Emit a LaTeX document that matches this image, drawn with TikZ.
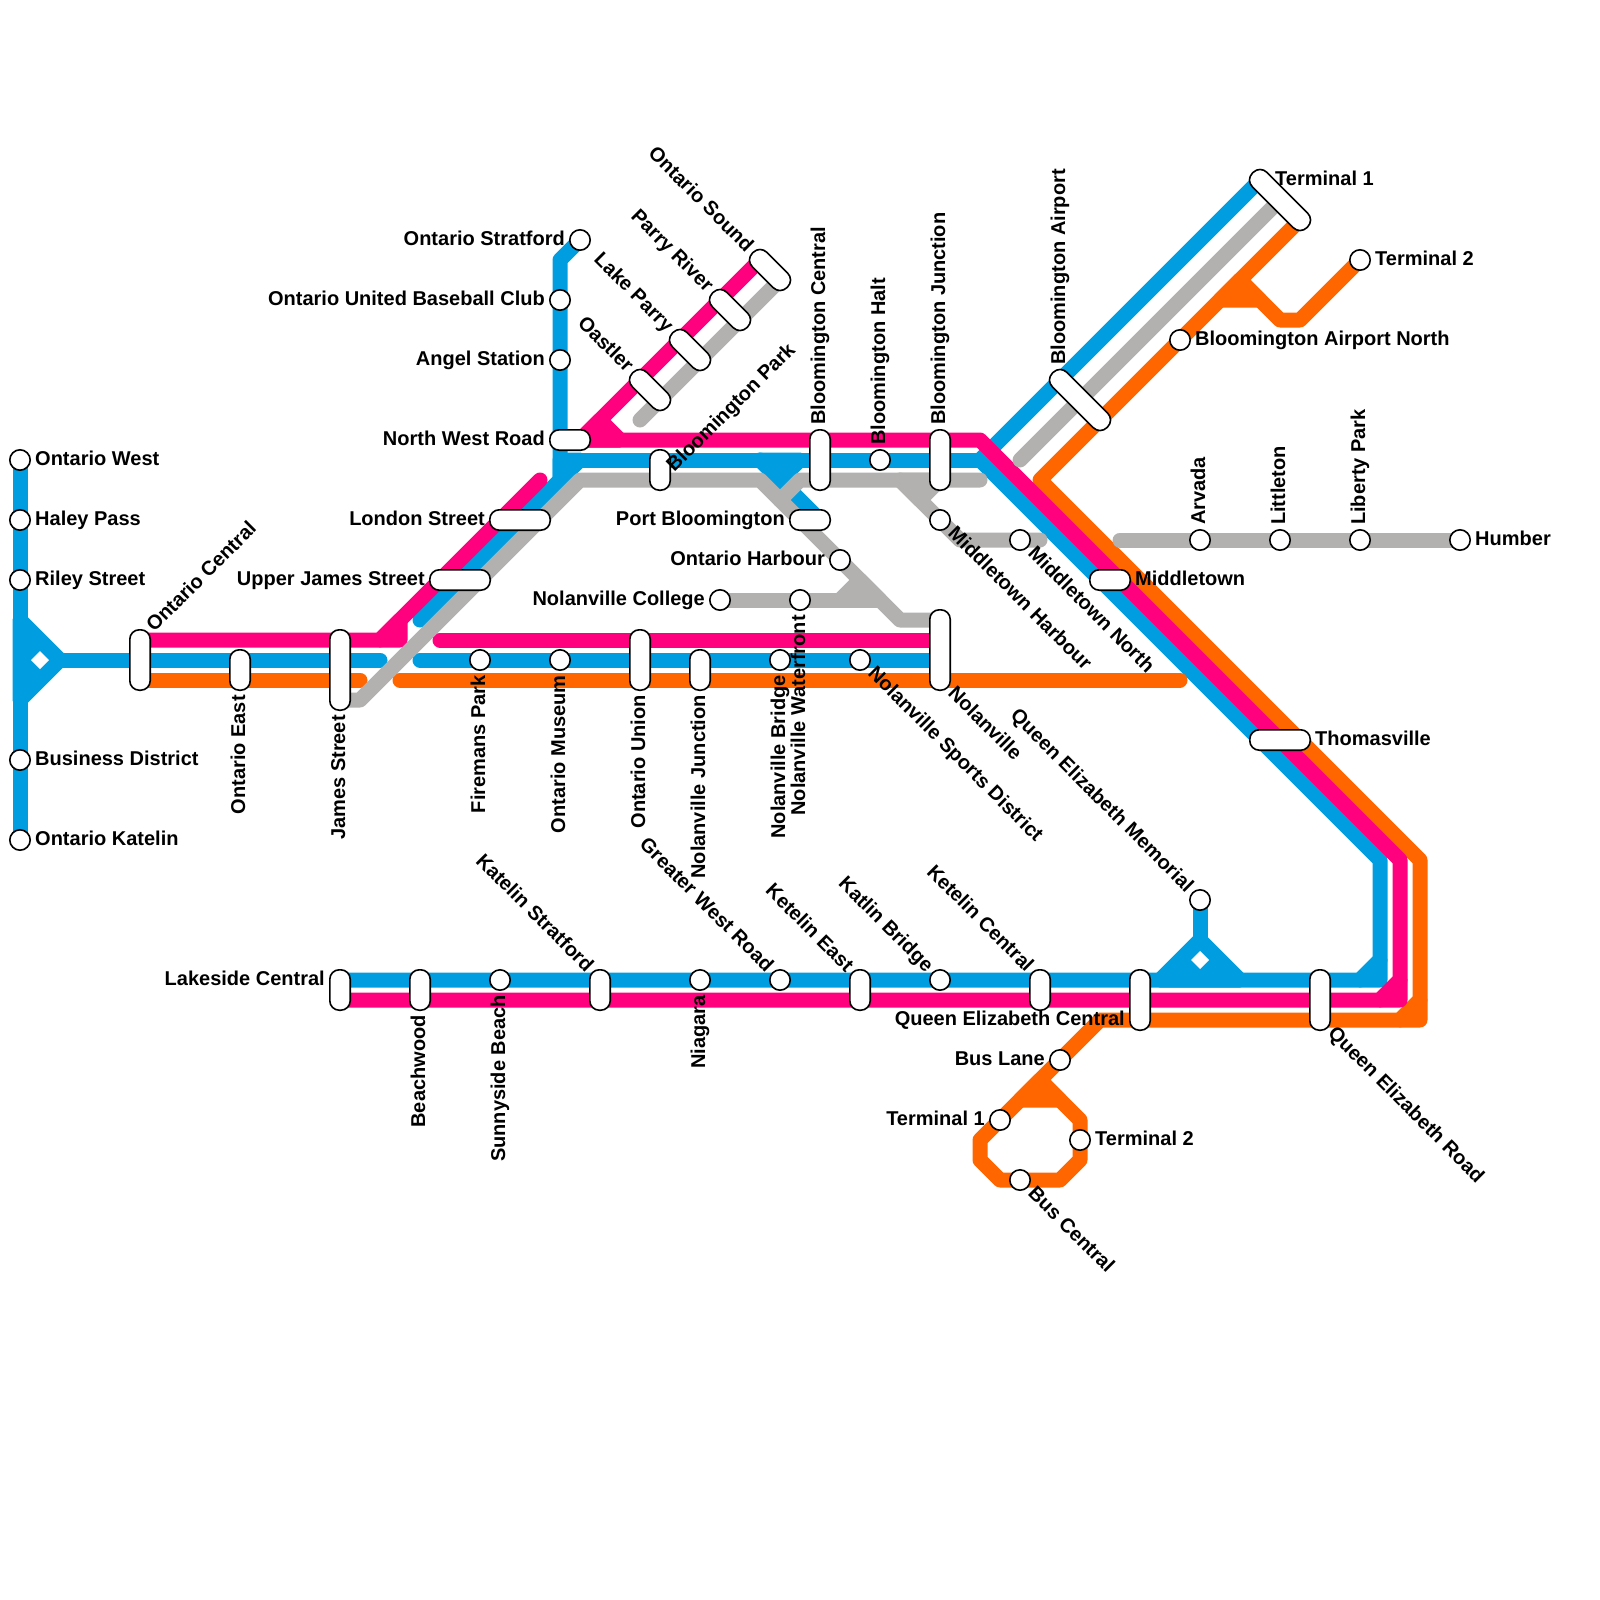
\documentclass[tikz,border=0pt]{standalone}
\usepackage{fontspec}
\setmainfont{Liberation Sans}
\usetikzlibrary{shapes.geometric, backgrounds}
\pgfdeclarelayer{labels}
\pgfsetlayers{background,main,labels}
\definecolor{metroBlue}{HTML}{009EE0}
\definecolor{metroPink}{HTML}{FF007F}
\definecolor{metroOrange}{HTML}{FF6600}
\definecolor{metroGrey}{HTML}{B2B1B0}
\tikzset{
  stopdot/.style={
    draw, circle, fill=white, line width=0.8pt,
    inner sep=0pt, minimum size=10.2pt
  },
  pillbox/.style={
    draw, rectangle, fill=white, line width=0.8pt,
    rounded corners=4.7pt, inner sep=0pt, minimum height=10.2pt
  },
  hubhole/.style={
    diamond, fill=white, inner sep=0pt, outer sep=0pt, minimum size=9pt
  },
  % Station names
  stoplabel/.style={
    font=\bfseries, inner ysep=0pt, inner xsep=7.4pt,
    text height=5.2pt, text depth=0pt
  },
  lblE/.style={anchor=west},
  lblW/.style={anchor=east},
  lblN/.style={rotate=90, anchor=west},
  lblS/.style={rotate=90, anchor=east},
  lblNE/.style={rotate=45, anchor=west},
  lblNW/.style={rotate=-45, anchor=east},
  lblSE/.style={rotate=-45, anchor=west},
  % Tracks
  track/.style={line width=7.5pt, line cap=round, line join=round},
  blueline/.style={track, draw=metroBlue},
  pinkline/.style={track, draw=metroPink},
  orangeline/.style={track, draw=metroOrange},
  greyline/.style={track, draw=metroGrey},
}
\newcommand{\stopnode}[4]{%
  \node[stopdot] (#1) at (#2) {};
  \begin{pgfonlayer}{labels}
    \node[stoplabel, #3] (#1Label) at (#2) {#4};
  \end{pgfonlayer}
}
\newcommand{\pillnode}[7]{%
  \node[pillbox, minimum width=#3pt+10.2pt, rotate=#4] (#1) at (#2) {};
  \begin{pgfonlayer}{labels}
    \node[stoplabel, #6] (#1Label) at (#5) {#7};
  \end{pgfonlayer}
}

\begin{document}
\begin{tikzpicture}[x=10pt, y=-10pt]
  \useasboundingbox (0,0) rectangle (80,80);

  %% ── West branch ──
  \stopnode{ontwest}{1,23}{lblE}{Ontario West}
  \stopnode{haley}{1,26}{lblE}{Haley Pass}
  \stopnode{riley}{1,29}{lblE}{Riley Street}
  \stopnode{business}{1,38}{lblE}{Business District}
  \stopnode{ontkatelin}{1,42}{lblE}{Ontario Katelin}
  \node[hubhole] (holeWest) at (2,33) {};

  %% ── Ontario trunk ──
  \pillnode{ontcentral}{7,33}{20}{90}{7,32}{lblNE}{Ontario Central}
  \pillnode{onteast}{12,33.5}{10}{90}{12,34}{lblS}{Ontario East}
  \pillnode{jamesst}{17,33.5}{30}{90}{17,35}{lblS}{James Street}
  \stopnode{firemans}{24,33}{lblS}{Firemans Park}
  \stopnode{ontmuseum}{28,33}{lblS}{Ontario Museum}
  \pillnode{ontunion}{32,33}{20}{90}{32,34}{lblS}{Ontario Union}
  \pillnode{nolanjunction}{35,33.5}{10}{90}{35,34}{lblS}{Nolanville Junction}
  \stopnode{nolanbridge}{39,33}{lblS}{Nolanville Bridge}
  \stopnode{nolansports}{43,33}{lblSE}{Nolanville Sports District}
  \pillnode{nolanville}{47,32.5}{30}{90}{47,34}{lblSE}{Nolanville}

  %% ── North west ──
  \stopnode{ontstratford}{29,12}{lblW}{Ontario Stratford}
  \stopnode{ontunited}{28,15}{lblW}{Ontario United Baseball Club}
  \stopnode{angel}{28,18}{lblW}{Angel Station}
  \pillnode{nwroad}{28.5,22}{10}{0}{28,22}{lblW}{North West Road}
  \pillnode{london}{26,26}{20}{0}{25,26}{lblW}{London Street}
  \pillnode{upperjames}{23,29}{20}{0}{22,29}{lblW}{Upper James Street}
  \pillnode{oastler}{32.5,19.5}{14.14}{-45}{32,19}{lblNW}{Oastler}
  \pillnode{lakeparry}{34.5,17.5}{14.14}{-45}{34,17}{lblNW}{Lake Parry}
  \pillnode{parry}{36.5,15.5}{14.14}{-45}{36,15}{lblNW}{Parry River}
  \pillnode{sound}{38.5,13.5}{14.14}{-45}{38,13}{lblNW}{Ontario Sound}

  %% ── Bloomington ──
  \pillnode{bloompark}{33,23.5}{10}{90}{33,24}{lblNE}{Bloomington Park}
  \pillnode{bloomcentral}{41,23}{20}{90}{41,22}{lblN}{Bloomington Central}
  \stopnode{bloomhalt}{44,23}{lblN}{Bloomington Halt}
  \pillnode{bloomjunction}{47,23}{20}{90}{47,22}{lblN}{Bloomington Junction}
  \pillnode{portbloom}{40.5,26}{10}{0}{40,26}{lblW}{Port Bloomington}
  \stopnode{ontharbour}{42,28}{lblW}{Ontario Harbour}
  \stopnode{nolancollege}{36,30}{lblW}{Nolanville College}
  \stopnode{nolanwater}{40,30}{lblS}{Nolanville Waterfront}
  \stopnode{midharbour}{47,26}{lblSE}{Middletown Harbour}
  \stopnode{midnorth}{51,27}{lblSE}{Middletown North}

  %% ── Airport and east ──
  \pillnode{airport}{54,20}{28.28}{-45}{53,19}{lblN}{Bloomington Airport}
  \pillnode{terminalA}{64,10}{28.28}{-45}{63,9}{lblE}{Terminal 1}
  \stopnode{terminalB}{68,13}{lblE}{Terminal 2}
  \stopnode{airportnorth}{59,17}{lblE}{Bloomington Airport North}
  \stopnode{arvada}{60,27}{lblN}{Arvada}
  \stopnode{littleton}{64,27}{lblN}{Littleton}
  \stopnode{liberty}{68,27}{lblN}{Liberty Park}
  \stopnode{humber}{73,27}{lblE}{Humber}
  \pillnode{middletown}{55.5,29}{10}{0}{56,29}{lblE}{Middletown}
  \pillnode{thomasville}{64,37}{20}{0}{65,37}{lblE}{Thomasville}

  %% ── Lakeside line ──
  \pillnode{lakeside}{17,49.5}{10}{90}{17,49}{lblW}{Lakeside Central}
  \pillnode{beachwood}{21,49.5}{10}{90}{21,50}{lblS}{Beachwood}
  \stopnode{sunnyside}{25,49}{lblS}{Sunnyside Beach}
  \pillnode{katstratford}{30,49.5}{10}{90}{30,49}{lblNW}{Katelin Stratford}
  \stopnode{niagara}{35,49}{lblS}{Niagara}
  \stopnode{greaterwest}{39,49}{lblNW}{Greater West Road}
  \pillnode{keteast}{43,49.5}{10}{90}{43,49}{lblNW}{Ketelin East}
  \stopnode{katlin}{47,49}{lblNW}{Katlin Bridge}
  \pillnode{ketcentral}{52,49.5}{10}{90}{52,49}{lblNW}{Ketelin Central}
  \pillnode{qecentral}{57,50}{20}{90}{57,51}{lblW}{Queen Elizabeth Central}
  \stopnode{qememorial}{60,45}{lblNW}{Queen Elizabeth Memorial}
  \node[hubhole] (holeEast) at (60,48) {};
  \pillnode{qeroad}{66,50}{20}{90}{66,51}{lblSE}{Queen Elizabeth Road}

  %% ── Bus loop ──
  \stopnode{buslane}{53,53}{lblW}{Bus Lane}
  \stopnode{busA}{50,56}{lblW}{Terminal 1}
  \stopnode{busB}{54,57}{lblE}{Terminal 2}
  \stopnode{buscentral}{51,59}{lblSE}{Bus Central}

  %% ── Free ends of the tracks ──
  \coordinate (blueHub) at (3,33);
  \coordinate (blueTrunkW) at (19,33);
  \coordinate (blueTrunkE) at (21,33);
  \coordinate (blueNolan) at (47,33);
  \coordinate (blueDiag) at (21,31);
  \coordinate (blueAir) at (63,9);
  \coordinate (blueLake) at (17,49);
  \coordinate (bluePort) at (41,26);
  \coordinate (pinkCentral) at (7,32);
  \coordinate (pinkDiag) at (27,24);
  \coordinate (pinkTrunk) at (22,32);
  \coordinate (pinkNolan) at (47,32);
  \coordinate (pinkSound) at (38,13);
  \coordinate (pinkLake) at (17,50);
  \coordinate (orangeCentral) at (7,34);
  \coordinate (orangeJames) at (18,34);
  \coordinate (orangeTrunk) at (20,34);
  \coordinate (orangeEnd) at (59,34);
  \coordinate (orangeAir) at (65,11);
  \coordinate (greyJames) at (17,35);
  \coordinate (greyNolan) at (47,31);
  \coordinate (greyBloom) at (49,24);
  \coordinate (greySound) at (39,14);
  \coordinate (greyOast) at (32,21);
  \coordinate (greyAir) at (64,10);
  \coordinate (greyAirEnd) at (51,23);
  \coordinate (greyMid) at (52,27);
  \coordinate (greyArvada) at (56,27);

  \begin{scope}[on background layer]
    %% ── Blue ──
    \draw[blueline] (ontwest.center) -- (ontkatelin.center);
    \draw[blueline, fill=metroBlue] (1,31) -- (blueHub) -- (1,35) -- cycle;
    \draw[blueline] (blueHub) -- (blueTrunkW);
    \draw[blueline] (blueTrunkE) -- (blueNolan);
    \draw[blueline] (ontstratford.center) -- (28,13) -- (28,24) -- (blueDiag);
    \draw[blueline, fill=metroBlue] (28,23) -- (29,23) -- (28,24) -- cycle;
    \draw[blueline] (29,23) -- (49,23);
    \draw[blueline] (blueAir) -- (49,23) -- (69,43) -- (69,48) -- (68,49) -- (blueLake);
    \draw[blueline, fill=metroBlue] (68,49) -- (69,49) -- (69,48) -- cycle;
    \draw[blueline] (38,23) -- (bluePort);
    \draw[blueline, fill=metroBlue] (38,23) -- (40,23) -- (39,24) -- cycle;
    \draw[blueline] (qememorial.center) -- (60,47);
    \draw[blueline, fill=metroBlue] (58,49) -- (60,47) -- (62,49) -- cycle;

    %% ── Orange ──
    \draw[orangeline] (orangeCentral) -- (orangeJames);
    \draw[orangeline] (orangeTrunk) -- (orangeEnd);
    \draw[orangeline] (orangeAir) -- (52,24) -- (71,43) -- (71,50) -- (70,51) -- (55,51)
      -- (49,57) -- (49,58) -- (50,59) -- (53,59) -- (54,58) -- (54,56) -- (52,54);
    \draw[orangeline, fill=metroOrange] (70,51) -- (71,51) -- (71,50) -- cycle;
    \draw[orangeline, fill=metroOrange] (51,55) -- (52,54) -- (53,55) -- cycle;
    \draw[orangeline] (terminalB.center) -- (65,16) -- (64,16) -- (62,14);
    \draw[orangeline, fill=metroOrange] (61,15) -- (62,14) -- (63,15) -- cycle;

    %% ── Pink ──
    \draw[pinkline] (pinkCentral) -- (19,32) -- (pinkDiag);
    \draw[pinkline, fill=metroPink] (19,32) -- (20,32) -- (20,31) -- cycle;
    \draw[pinkline] (pinkTrunk) -- (pinkNolan);
    \draw[pinkline] (pinkSound) -- (29,22) -- (49,22) -- (70,43) -- (70,49) -- (69,50) -- (pinkLake);
    \draw[pinkline, fill=metroPink] (29,22) -- (30,21) -- (31,22) -- cycle;
    \draw[pinkline, fill=metroPink] (69,50) -- (70,50) -- (70,49) -- cycle;

    %% ── Grey ──
    \draw[greyline] (greyJames) -- (18,35) -- (29,24) -- (38,24) -- (45,31) -- (greyNolan);
    \draw[greyline] (39,25) -- (40,24) -- (greyBloom);
    \draw[greyline] (greySound) -- (greyOast);
    \draw[greyline] (greyAir) -- (greyAirEnd);
    \draw[greyline] (45,24) -- (48,27) -- (greyMid);
    \draw[greyline, fill=metroGrey] (45,24) -- (47,24) -- (46,25) -- cycle;
    \draw[greyline] (nolancollege.center) -- (44,30);
    \draw[greyline, fill=metroGrey] (42,30) -- (43,29) -- (44,30) -- cycle;
    \draw[greyline] (greyArvada) -- (humber.center);
  \end{scope}

\end{tikzpicture}
\end{document}
